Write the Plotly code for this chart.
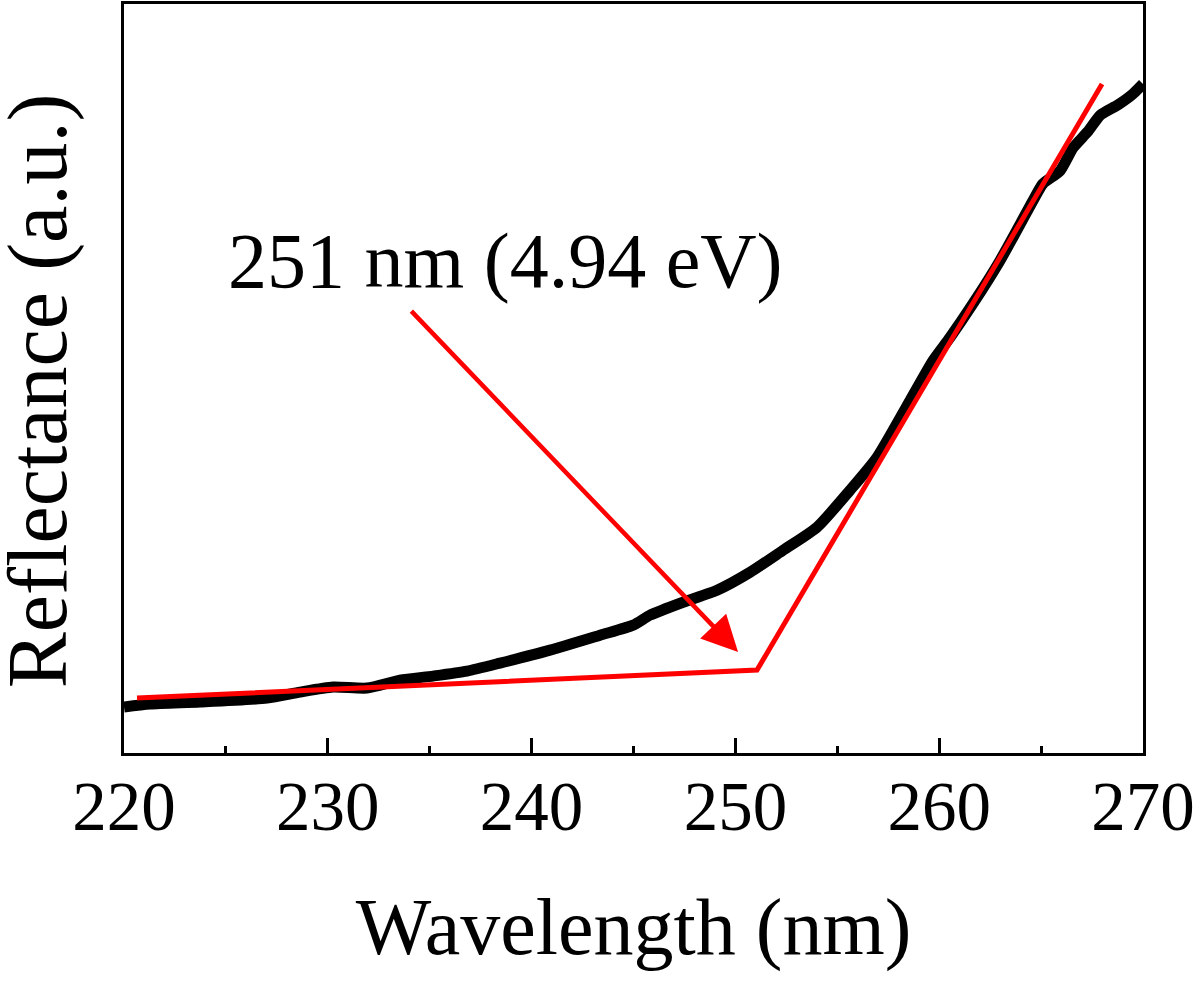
import plotly.graph_objects as go

# Measured reflectance spectrum (arbitrary units)
wavelength_nm = [220.0, 221.28, 223.73, 227.02, 228.64, 230.26, 231.92, 233.54, 235.16,
                 236.83, 238.45, 240.90, 243.36, 244.98, 245.81, 247.43, 249.10, 250.72,
                 252.34, 254.00, 255.62, 256.95, 258.57, 259.70, 260.53, 261.66, 262.98,
                 264.60, 265.09, 265.93, 266.57, 267.28, 267.92, 268.77, 269.51, 270.0]
reflectance = [6.13, 6.53, 6.80, 7.33, 8.13, 8.80, 8.67, 9.73, 10.27,
               10.93, 12.0, 13.73, 15.73, 17.07, 18.4, 20.13, 21.73, 24.13,
               27.07, 30.13, 35.07, 39.47, 47.07, 52.4, 55.47, 60.0, 65.73,
               73.73, 76.0, 77.73, 80.8, 82.93, 85.2, 86.53, 88.0, 89.33]

# Tangent construction (baseline + absorption-edge tangent)
tangent_x = [220.64, 251.06, 267.99]
tangent_y = [7.33, 11.07, 89.33]

# Arrow: tail and head
arrow_tail = (234.03, 59.2)
arrow_head = (250.13, 13.47)
label_pos = (238.7, 65.8)
label_text = "251 nm (4.94 eV)"

x_ticks = [220, 230, 240, 250, 260, 270]
x_title = "Wavelength (nm)"
y_title = "Reflectance (a.u.)"

FONT = "Liberation Serif"

fig = go.Figure()
fig.add_trace(go.Scatter(x=wavelength_nm, y=reflectance, mode="lines",
                         line=dict(color="black", width=11, shape="spline", smoothing=0.6),
                         showlegend=False))
fig.add_trace(go.Scatter(x=tangent_x, y=tangent_y, mode="lines",
                         line=dict(color="#ff0000", width=5),
                         showlegend=False))

fig.add_annotation(x=arrow_head[0], y=arrow_head[1], ax=arrow_tail[0], ay=arrow_tail[1],
                   xref="x", yref="y", axref="x", ayref="y",
                   text="", showarrow=True, arrowhead=2, arrowsize=1.6, arrowwidth=4.5,
                   arrowcolor="#ff0000", standoff=0)
fig.add_annotation(x=label_pos[0], y=label_pos[1], xref="x", yref="y",
                   text=label_text, showarrow=False,
                   font=dict(family=FONT, size=78, color="black"))
# y-axis title
fig.add_annotation(x=0, y=0.483, xref="paper", yref="paper", xshift=-86,
                   text=y_title, textangle=-90, showarrow=False,
                   xanchor="center", yanchor="middle",
                   font=dict(family=FONT, size=84, color="black"))

fig.update_xaxes(range=[220, 270], tickvals=x_ticks, ticktext=[str(v) for v in x_ticks],
                 showline=True, mirror=True, linecolor="black", linewidth=3,
                 ticks="inside", ticklen=15, tickwidth=2.5, tickcolor="black",
                 minor=dict(dtick=5, ticks="inside", ticklen=7, tickwidth=2.5, tickcolor="black"),
                 showgrid=False, zeroline=False, ticklabelstandoff=-9,
                 tickfont=dict(family=FONT, size=69, color="black"),
                 title=dict(text=x_title, font=dict(family=FONT, size=80, color="black"),
                            standoff=55))
fig.update_yaxes(range=[0, 100], showticklabels=False, ticks="",
                 showline=True, mirror=True, linecolor="black", linewidth=3,
                 showgrid=False, zeroline=False)

fig.update_layout(width=1200, height=982, plot_bgcolor="white", paper_bgcolor="white",
                  margin=dict(l=124, r=57, t=4, b=229, autoexpand=False))

fig.write_html("out.html", config={"displayModeBar": False},
               post_script="document.body.style.margin='0';document.body.style.overflow='hidden';")
